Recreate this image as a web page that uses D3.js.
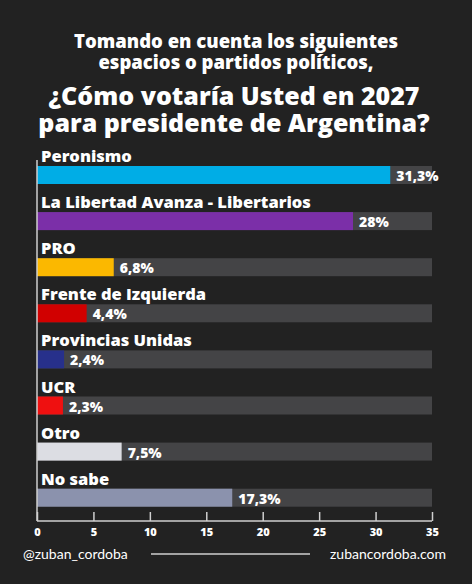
<!DOCTYPE html>
<html lang="es">
<head>
<meta charset="UTF-8">
<style>
  body { margin: 0; background: #222222; }
  svg text { font-family: "Open Sans", "Lato", sans-serif; fill: #fff; }
  .title { font-weight: 800; text-anchor: middle; }
  .cat { font-weight: 800; font-size: 16.5px; }
  .val { font-weight: 800; font-size: 14px; }
  .tick text { font-weight: 800; font-size: 11px; fill: #fff; }
  .foot { font-family: "Lato", sans-serif; font-size: 14px; }
</style>
</head>
<body>
<svg id="chart" width="472" height="584"></svg>
<script src="https://d3js.org/d3.v7.min.js"></script>
<script>
const categories = ["Peronismo", "La Libertad Avanza - Libertarios", "PRO", "Frente de Izquierda",
  "Provincias Unidas", "UCR", "Otro", "No sabe"];
const values = [31.3, 28, 6.8, 4.4, 2.4, 2.3, 7.5, 17.3];
const labels = ["31,3%", "28%", "6,8%", "4,4%", "2,4%", "2,3%", "7,5%", "17,3%"];
const colors = ["#00ade6", "#7b2fa8", "#fbb800", "#d10000", "#27308b", "#ef1010", "#dcdde3", "#8b92ad"];
const ticks = [0, 5, 10, 15, 20, 25, 30, 35];

const svg = d3.select("#chart");
svg.append("rect").attr("width", 472).attr("height", 584).attr("fill", "#222222");

// title: two blocks, one <text> each with tspans
const t1 = ["Tomando en cuenta los siguientes", "espacios o partidos políticos,"];
const t2 = ["¿Cómo votaría Usted en 2027", "para presidente de Argentina?"];
const tt1 = svg.append("text").attr("class", "title").attr("y", 48).attr("font-size", 18.5);
t1.forEach((s, i) => tt1.append("tspan").attr("x", 236).attr("dy", i ? 21 : 0).text(s));
const tt2 = svg.append("text").attr("class", "title").attr("y", 105).attr("font-size", 25);
t2.forEach((s, i) => tt2.append("tspan").attr("x", 234).attr("dy", i ? 27 : 0).text(s));

const x = d3.scaleLinear().domain([0, 35]).range([37, 432]);
const bh = 18;

const g = svg.append("g");
categories.forEach((c, i) => {
  const yy = 166 + i * 46.1;
  g.append("rect").attr("x", x(0)).attr("y", yy).attr("width", x(35) - x(0)).attr("height", bh).attr("fill", "#444446");
  g.append("rect").attr("x", x(0)).attr("y", yy).attr("width", x(values[i]) - x(0)).attr("height", bh).attr("fill", colors[i]);
  g.append("text").attr("class", "cat").attr("x", 41).attr("y", yy - 4).text(c);
  g.append("text").attr("class", "val").attr("x", x(values[i]) + 6).attr("y", yy + 15).text(labels[i]);
});

// axis
const ax = svg.append("g").attr("transform", "translate(0,521)")
  .call(d3.axisTop(x).tickValues(ticks).tickSize(9).tickPadding(-24));
ax.selectAll("path,line").attr("stroke", "#cfcfcf").attr("stroke-width", 1.5);
ax.select(".domain").attr("d", "M37,0H432");
svg.append("line").attr("x1", 37).attr("x2", 37).attr("y1", 160).attr("y2", 521)
  .attr("stroke", "#cfcfcf").attr("stroke-width", 1.5);

// footer
svg.append("text").attr("class", "foot").attr("x", 23).attr("y", 559).attr("font-size", 13.5).text("@zuban_cordoba");
svg.append("line").attr("x1", 151).attr("x2", 310).attr("y1", 554).attr("y2", 554)
  .attr("stroke", "#cfcfcf").attr("stroke-width", 1.5);
svg.append("text").attr("class", "foot").attr("x", 446).attr("y", 559).attr("text-anchor", "end").text("zubancordoba.com");
</script>
</body>
</html>
